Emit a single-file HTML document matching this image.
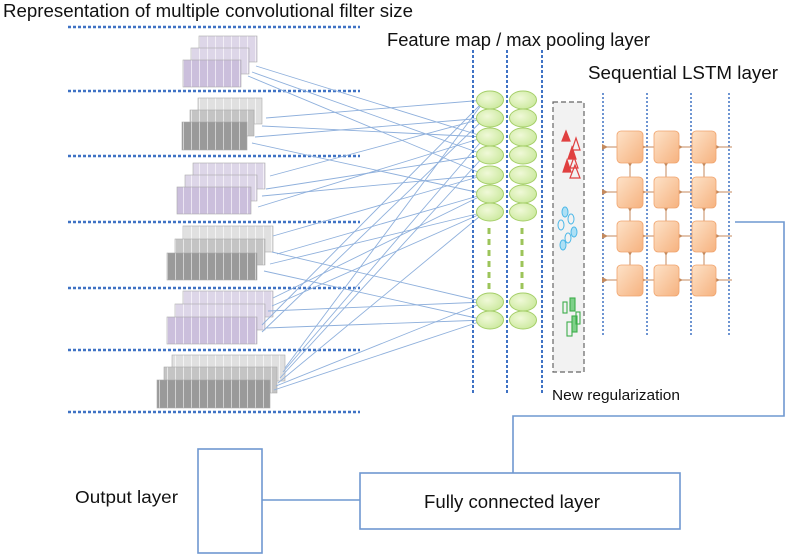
<!DOCTYPE html>
<html><head><meta charset="utf-8"><style>
html,body{margin:0;padding:0;background:#fff;}
svg{display:block;font-family:"Liberation Sans",sans-serif;}
</style></head><body>
<svg width="789" height="556" viewBox="0 0 789 556" xmlns="http://www.w3.org/2000/svg">
<defs>
<pattern id="pp" width="8" height="40" patternUnits="userSpaceOnUse"><rect width="8" height="40" fill="#cbbfdc"/><rect x="7" width="1" height="40" fill="#ece6f3"/></pattern>
<pattern id="pl" width="8" height="40" patternUnits="userSpaceOnUse"><rect width="8" height="40" fill="#ddd6e8"/><rect x="7" width="1" height="40" fill="#f3eff7"/></pattern>
<pattern id="gd" width="8" height="40" patternUnits="userSpaceOnUse"><rect width="8" height="40" fill="#9a9a9a"/><rect x="7" width="1" height="40" fill="#d0d0d0"/></pattern>
<pattern id="gm" width="8" height="40" patternUnits="userSpaceOnUse"><rect width="8" height="40" fill="#c4c4c4"/><rect x="7" width="1" height="40" fill="#e8e8e8"/></pattern>
<pattern id="gl" width="8" height="40" patternUnits="userSpaceOnUse"><rect width="8" height="40" fill="#e0e0e0"/><rect x="7" width="1" height="40" fill="#f4f4f4"/></pattern>
<linearGradient id="og" x1="0" y1="0" x2="1" y2="1"><stop offset="0" stop-color="#fde2c8"/><stop offset="1" stop-color="#f6b27f"/></linearGradient>
<radialGradient id="eg" cx="0.4" cy="0.4" r="0.7"><stop offset="0" stop-color="#f0f9d8"/><stop offset="1" stop-color="#c9e89a"/></radialGradient>
<marker id="ah" markerWidth="6" markerHeight="6" refX="1" refY="3" orient="auto"><path d="M6,0 L0,3 L6,6 z" fill="#c48a5e"/></marker>
</defs>

<text x="3" y="17" font-size="18.5" fill="#111" textLength="410" lengthAdjust="spacingAndGlyphs">Representation of multiple convolutional filter size</text>
<text x="387" y="46" font-size="18" fill="#111" textLength="263" lengthAdjust="spacingAndGlyphs">Feature map / max pooling layer</text>
<text x="588" y="79" font-size="18" fill="#111" textLength="190" lengthAdjust="spacingAndGlyphs">Sequential LSTM layer</text>
<text x="552" y="400" font-size="15" fill="#111" textLength="128" lengthAdjust="spacingAndGlyphs">New regularization</text>
<text x="75" y="503" font-size="17.5" fill="#111" textLength="103" lengthAdjust="spacingAndGlyphs">Output layer</text>

<g stroke="#3f72c4" stroke-width="2.5" stroke-dasharray="3,2">
<line x1="68" y1="27" x2="360" y2="27"/><line x1="68" y1="91" x2="360" y2="91"/>
<line x1="68" y1="156" x2="360" y2="156"/><line x1="68" y1="222" x2="360" y2="222"/>
<line x1="68" y1="288" x2="360" y2="288"/><line x1="68" y1="350" x2="360" y2="350"/>
<line x1="68" y1="412" x2="360" y2="412"/>
</g>

<g stroke="#aaa" stroke-width="0.6">
<rect x="199" y="36" width="58" height="26" fill="url(#pl)"/>
<rect x="191" y="48" width="58" height="26" fill="url(#pl)"/>
<rect x="183" y="60" width="58" height="27" fill="url(#pp)"/>
<rect x="198" y="98" width="64" height="26" fill="url(#gl)"/>
<rect x="190" y="110" width="64" height="26" fill="url(#gm)"/>
<rect x="182" y="122" width="65" height="28" fill="url(#gd)"/>
<rect x="193" y="163" width="72" height="26" fill="url(#pl)"/>
<rect x="185" y="175" width="72" height="26" fill="url(#pl)"/>
<rect x="177" y="187" width="74" height="27" fill="url(#pp)"/>
<rect x="183" y="226" width="90" height="26" fill="url(#gl)"/>
<rect x="175" y="239" width="90" height="26" fill="url(#gm)"/>
<rect x="167" y="253" width="90" height="27" fill="url(#gd)"/>
<rect x="183" y="291" width="90" height="26" fill="url(#pl)"/>
<rect x="175" y="304" width="90" height="26" fill="url(#pl)"/>
<rect x="167" y="317" width="90" height="27" fill="url(#pp)"/>
<rect x="172" y="355" width="113" height="26" fill="url(#gl)"/>
<rect x="164" y="367" width="113" height="26" fill="url(#gm)"/>
<rect x="157" y="380" width="113" height="28" fill="url(#gd)"/>
</g>

<g stroke="#8fb0dc" stroke-width="0.9" fill="none">
<line x1="256" y1="66" x2="485" y2="137"/><line x1="252" y1="72" x2="485" y2="155"/><line x1="248" y1="76" x2="485" y2="175"/>
<line x1="266" y1="118" x2="485" y2="100"/><line x1="262" y1="126" x2="485" y2="137"/><line x1="255" y1="137" x2="485" y2="118"/><line x1="252" y1="143" x2="485" y2="194"/>
<line x1="270" y1="176" x2="485" y2="118"/><line x1="266" y1="189" x2="485" y2="155"/><line x1="262" y1="196" x2="485" y2="175"/><line x1="258" y1="207" x2="485" y2="137"/>
<line x1="273" y1="236" x2="485" y2="175"/><line x1="277" y1="254" x2="485" y2="194"/><line x1="272" y1="252" x2="485" y2="302"/><line x1="264" y1="271" x2="485" y2="320"/><line x1="270" y1="264" x2="485" y2="212"/>
<line x1="273" y1="298" x2="485" y2="194"/><line x1="272" y1="306" x2="485" y2="212"/><line x1="268" y1="311" x2="485" y2="302"/><line x1="266" y1="328" x2="485" y2="320"/><line x1="262" y1="325" x2="485" y2="100"/><line x1="262" y1="332" x2="485" y2="118"/>
<line x1="285" y1="368" x2="485" y2="100"/><line x1="283" y1="372" x2="485" y2="137"/><line x1="280" y1="378" x2="485" y2="155"/><line x1="278" y1="383" x2="485" y2="212"/><line x1="276" y1="386" x2="485" y2="302"/><line x1="274" y1="390" x2="485" y2="320"/>
</g>

<g stroke="#3f72c4" stroke-width="2" stroke-dasharray="3,2">
<line x1="473" y1="50" x2="473" y2="395"/><line x1="507" y1="50" x2="507" y2="395"/><line x1="542" y1="50" x2="542" y2="395"/>
</g>
<g fill="url(#eg)" stroke="#a6cf6a" stroke-width="1">
<ellipse cx="490" cy="100" rx="13.5" ry="9"/><ellipse cx="490" cy="118" rx="13.5" ry="9"/><ellipse cx="490" cy="137" rx="13.5" ry="9"/><ellipse cx="490" cy="155" rx="13.5" ry="9"/><ellipse cx="490" cy="175" rx="13.5" ry="9"/><ellipse cx="490" cy="194" rx="13.5" ry="9"/><ellipse cx="490" cy="212" rx="13.5" ry="9"/><ellipse cx="490" cy="302" rx="13.5" ry="9"/><ellipse cx="490" cy="320" rx="13.5" ry="9"/>
<ellipse cx="523" cy="100" rx="13.5" ry="9"/><ellipse cx="523" cy="118" rx="13.5" ry="9"/><ellipse cx="523" cy="137" rx="13.5" ry="9"/><ellipse cx="523" cy="155" rx="13.5" ry="9"/><ellipse cx="523" cy="175" rx="13.5" ry="9"/><ellipse cx="523" cy="194" rx="13.5" ry="9"/><ellipse cx="523" cy="212" rx="13.5" ry="9"/><ellipse cx="523" cy="302" rx="13.5" ry="9"/><ellipse cx="523" cy="320" rx="13.5" ry="9"/>
</g>
<g stroke="#9cc45a" stroke-width="3" stroke-dasharray="6,5">
<line x1="489" y1="228" x2="489" y2="290"/><line x1="522" y1="228" x2="522" y2="290"/>
</g>

<rect x="553" y="102" width="31" height="270" fill="#f2f2f2" stroke="#666" stroke-width="1.2" stroke-dasharray="5,3"/>
<g fill="none" stroke="#e04040" stroke-width="1.2">
<polygon points="566,131 570,141 562,141" fill="#e04040"/><polygon points="576,138 580,150 572,150"/>
<polygon points="572,147 576,159 568,159" fill="#e04040"/><polygon points="574,157 578,168 570,168"/>
<polygon points="567,160 571,172 563,172" fill="#e04040"/><polygon points="575,165 580,178 570,178"/>
</g>
<g fill="#aee0f5" stroke="#4cb8e8" stroke-width="1">
<ellipse cx="565" cy="212" rx="3" ry="5"/><ellipse cx="571" cy="219" rx="3" ry="5" fill="none"/><ellipse cx="561" cy="225" rx="3" ry="5" fill="none"/>
<ellipse cx="574" cy="232" rx="3" ry="5"/><ellipse cx="568" cy="238" rx="3" ry="5" fill="none"/><ellipse cx="563" cy="245" rx="3" ry="5"/>
</g>
<g fill="none" stroke="#3cae4a" stroke-width="1.1">
<rect x="563" y="302" width="4" height="11"/><rect x="570" y="298" width="5" height="13" fill="#7fd08a"/><rect x="567" y="322" width="5" height="14"/><rect x="572" y="316" width="5" height="16" fill="#7fd08a"/><rect x="576" y="312" width="4" height="12"/>
</g>

<g stroke="#3f72c4" stroke-width="1.5" stroke-dasharray="2,2">
<line x1="603" y1="93" x2="603" y2="337"/><line x1="647" y1="93" x2="647" y2="337"/><line x1="691" y1="93" x2="691" y2="337"/><line x1="729" y1="93" x2="729" y2="337"/>
</g>
<g stroke="#c48a5e" stroke-width="1" marker-end="url(#ah)">
<line x1="617" y1="147" x2="607" y2="147"/><line x1="654" y1="147" x2="645" y2="147"/><line x1="692" y1="147" x2="682" y2="147"/><line x1="732" y1="147" x2="719" y2="147"/>
<line x1="617" y1="192" x2="607" y2="192"/><line x1="654" y1="192" x2="645" y2="192"/><line x1="692" y1="192" x2="682" y2="192"/><line x1="732" y1="192" x2="719" y2="192"/>
<line x1="617" y1="236" x2="607" y2="236"/><line x1="654" y1="236" x2="645" y2="236"/><line x1="692" y1="236" x2="682" y2="236"/><line x1="732" y1="236" x2="719" y2="236"/>
<line x1="617" y1="280" x2="607" y2="280"/><line x1="654" y1="280" x2="645" y2="280"/><line x1="692" y1="280" x2="682" y2="280"/><line x1="732" y1="280" x2="719" y2="280"/>
<line x1="630" y1="177" x2="630" y2="166"/><line x1="666" y1="177" x2="666" y2="166"/><line x1="704" y1="177" x2="704" y2="166"/>
<line x1="630" y1="221" x2="630" y2="211"/><line x1="666" y1="221" x2="666" y2="211"/><line x1="704" y1="221" x2="704" y2="211"/>
<line x1="630" y1="265" x2="630" y2="255"/><line x1="666" y1="265" x2="666" y2="255"/><line x1="704" y1="265" x2="704" y2="255"/>
</g>
<g fill="url(#og)" stroke="#f0a46e" stroke-width="0.8">
<rect x="617" y="131" width="26" height="32" rx="4"/><rect x="654" y="131" width="25" height="32" rx="4"/><rect x="692" y="131" width="24" height="32" rx="4"/>
<rect x="617" y="177" width="26" height="31" rx="4"/><rect x="654" y="177" width="25" height="31" rx="4"/><rect x="692" y="177" width="24" height="31" rx="4"/>
<rect x="617" y="221" width="26" height="31" rx="4"/><rect x="654" y="221" width="25" height="31" rx="4"/><rect x="692" y="221" width="24" height="31" rx="4"/>
<rect x="617" y="265" width="26" height="31" rx="4"/><rect x="654" y="265" width="25" height="31" rx="4"/><rect x="692" y="265" width="24" height="31" rx="4"/>
</g>

<g fill="none" stroke="#6f98d0" stroke-width="1.6">
<polyline points="735,222 784,222 784,416 513,416 513,473"/>
<rect x="198" y="449" width="64" height="104"/>
<line x1="262" y1="500" x2="360" y2="500"/>
<rect x="360" y="473" width="320" height="56"/>
</g>
<text x="424" y="508" font-size="18" fill="#111" textLength="176" lengthAdjust="spacingAndGlyphs">Fully connected layer</text>
</svg>
</body></html>
